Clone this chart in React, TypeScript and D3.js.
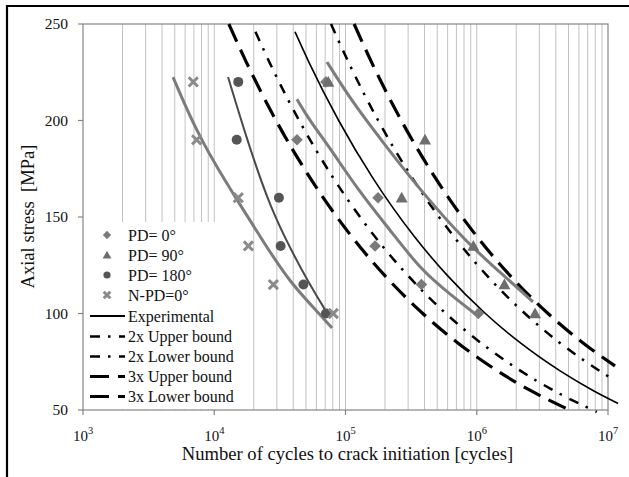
import React from "react";
import * as d3 from "d3";

// ---- measured data: fatigue life [cycles] vs. axial stress [MPa] ----
const stressLevels = [220, 190, 160, 135, 115, 100];

const pd0Cycles = [70900, 42700, 177000, 168000, 379000, 1028000];
const pd90Cycles = [74000, 403500, 268000, 942000, 1625000, 2780000];
const pd180Cycles = [15240, 14830, 31100, 32050, 47800, 70960];
const npdCycles = [6920, 7345, 15240, 18200, 28200, 80700];

// ---- trend lines of each data group ----
const fitNpdCycles = [4850, 7780, 15170, 23500, 37760, 63970, 78900];
const fitNpdStress = [222.5, 190, 158, 137.5, 116, 99.5, 92.5];
const fitPd180Cycles = [12740, 17770, 26610, 39810, 50930, 72280];
const fitPd180Stress = [222.5, 190, 155, 131, 117.5, 100.3];
const fitPd0Cycles = [42700, 53600, 76200, 124500, 218300, 375800, 636300, 1022000];
const fitPd0Stress = [211, 199.7, 185.8, 164, 143.3, 122.5, 109.6, 98.7];
const fitPd90Cycles = [72300, 114000, 189700, 369500, 842700, 1503000, 2683000];
const fitPd90Stress = [230.3, 209.1, 189.4, 164, 136.5, 121.5, 106];

// ---- experimental curve and scatter bands ----
const expCycles = [41200, 52800, 88700, 162200, 333400, 591600, 1164000, 2128000, 4375000, 7745000, 11940000];
const expStress = [246, 230, 200, 170, 140, 120, 100, 85, 70, 60, 53.4];
const up2Cycles = [77540, 105700, 177400, 324300, 666800, 1183000, 2328000, 4256000, 8750000, 10670000];
const up2Stress = [250, 230, 200, 170, 140, 120, 100, 85, 70, 66.3];
const lo2Cycles = [20600, 26420, 44360, 81100, 166700, 295800, 582100, 1064000, 2188000, 3873000, 8217000];
const lo2Stress = [246, 230, 200, 170, 140, 120, 100, 85, 70, 60, 49];
const up3Cycles = [116300, 158500, 266100, 486500, 1000000, 1775000, 3492000, 6385000, 11300000];
const up3Stress = [250, 230, 200, 170, 140, 120, 100, 85, 72.8];
const lo3Cycles = [12920, 17620, 29570, 54060, 111100, 197200, 388000, 709500, 1458000, 2582000, 5477000];
const lo3Stress = [250, 230, 200, 170, 140, 120, 100, 85, 70, 60, 49];

// ---- axes ----
const xDecades = [3, 4, 5, 6, 7];
const yTicks = [50, 100, 150, 200, 250];

const legendLabels = [
  "PD= 0°",
  "PD= 90°",
  "PD= 180°",
  "N-PD=0°",
  "Experimental",
  "2x Upper bound",
  "2x Lower bound",
  "3x Upper bound",
  "3x Lower bound",
];

const W = 629;
const H = 477;
const L = 83;
const R = 608;
const T = 24;
const B = 410;
const FONT = "'Liberation Serif', 'Times New Roman', serif";

const x = d3.scaleLog().domain([1e3, 1e7]).range([L, R]);
const y = d3.scaleLinear().domain([50, 250]).range([B, T]);

const zip = (n: number[], s: number[]) => n.map((v, i) => [v, s[i]] as [number, number]);

const smooth = d3
  .line<[number, number]>()
  .x((d) => x(d[0]))
  .y((d) => y(d[1]))
  .curve(d3.curveBasis);
const mono = d3
  .line<[number, number]>()
  .x((d) => x(d[0]))
  .y((d) => y(d[1]))
  .curve(d3.curveMonotoneX);

const DASH2 = "10,8,2.5,8.5";
const DASH3 = "19,9";

const C_DIAMOND = "#7a7a7a";
const C_TRI = "#6e6e6e";
const C_CIRCLE = "#555555";
const C_CROSS = "#8a8a8a";

function Marker({ kind, cx, cy, s = 1 }: { kind: string; cx: number; cy: number; s?: number }) {
  if (kind === "diamond") {
    const r = 5.8 * s;
    return <path d={`M${cx},${cy - r}L${cx + r},${cy}L${cx},${cy + r}L${cx - r},${cy}Z`} fill={C_DIAMOND} />;
  }
  if (kind === "tri") {
    const r = 6 * s;
    return (
      <path
        d={`M${cx},${cy - r}L${cx + r},${cy + r * 0.8}L${cx - r},${cy + r * 0.8}Z`}
        fill={C_TRI}
      />
    );
  }
  if (kind === "circle") {
    return <circle cx={cx} cy={cy} r={5 * s} fill={C_CIRCLE} />;
  }
  const r = 4.6 * s;
  return (
    <path
      d={`M${cx - r},${cy - r}L${cx + r},${cy + r}M${cx - r},${cy + r}L${cx + r},${cy - r}`}
      stroke={C_CROSS}
      strokeWidth={3}
      fill="none"
    />
  );
}

export default function App() {
  const grid: number[] = [];
  for (let k = 3; k <= 6; k++) {
    for (let m = 1; m <= 9; m++) {
      const v = m * Math.pow(10, k);
      if (v > 1e3) grid.push(v);
    }
  }

  const groups = [
    { kind: "diamond", cycles: pd0Cycles },
    { kind: "tri", cycles: pd90Cycles },
    { kind: "circle", cycles: pd180Cycles },
    { kind: "cross", cycles: npdCycles },
  ];

  const legendRowY = [235, 255, 275, 295, 316, 336.5, 356.5, 376.5, 396.5];
  const legendMarkers = ["diamond", "tri", "circle", "cross"];

  return (
    <svg
      width={W}
      height={H}
      style={{ position: "fixed", left: 0, top: 0, background: "#fff" }}
      fontFamily={FONT}
    >
      <rect x={0} y={0} width={W} height={H} fill="#fff" />
      {/* outer frame */}
      <line x1={6} y1={6} x2={W} y2={6} stroke="#000" strokeWidth={2.2} />
      <line x1={7} y1={5} x2={7} y2={H} stroke="#000" strokeWidth={2.2} />

      {/* vertical grid */}
      {grid.map((v) => (
        <line key={v} x1={x(v)} x2={x(v)} y1={T} y2={B} stroke="#c2c2c2" strokeWidth={1} />
      ))}

      {/* plot frame */}
      <rect x={L} y={T} width={R - L} height={B - T} fill="none" stroke="#858585" strokeWidth={1.2} />

      {/* axis ticks */}
      {yTicks.map((t) => (
        <g key={t}>
          <line x1={L - 5} x2={L} y1={y(t)} y2={y(t)} stroke="#858585" strokeWidth={1.2} />
          <text x={68} y={y(t) + 5} textAnchor="end" fontSize={15.5} fill="#111">
            {t}
          </text>
        </g>
      ))}
      {xDecades.map((k) => (
        <g key={k}>
          <line x1={x(Math.pow(10, k))} x2={x(Math.pow(10, k))} y1={B} y2={B + 5} stroke="#858585" strokeWidth={1.2} />
          <text x={x(Math.pow(10, k))} y={441} textAnchor="middle" fontSize={15} fill="#111">
            10
            <tspan dy={-7} fontSize={10.5}>
              {k}
            </tspan>
          </text>
        </g>
      ))}

      {/* axis titles */}
      <text x={347.5} y={459.5} textAnchor="middle" fontSize={18.6} fill="#111">
        Number of cycles to crack initiation [cycles]
      </text>
      <text
        transform="translate(34,216.5) rotate(-90)"
        textAnchor="middle"
        fontSize={18.6}
        fill="#111"
        style={{ whiteSpace: "pre" }}
      >
        {"Axial stress  [MPa]"}
      </text>

      {/* scatter bands */}
      <path d={mono(zip(lo3Cycles, lo3Stress)) || ""} fill="none" stroke="#000" strokeWidth={3.2} strokeDasharray={DASH3} />
      <path d={mono(zip(up3Cycles, up3Stress)) || ""} fill="none" stroke="#000" strokeWidth={3.2} strokeDasharray={DASH3} />
      <path d={mono(zip(lo2Cycles, lo2Stress)) || ""} fill="none" stroke="#000" strokeWidth={2.5} strokeDasharray={DASH2} />
      <path d={mono(zip(up2Cycles, up2Stress)) || ""} fill="none" stroke="#000" strokeWidth={2.5} strokeDasharray={DASH2} />

      {/* group trend lines */}
      <path d={smooth(zip(fitNpdCycles, fitNpdStress)) || ""} fill="none" stroke="#7c7c7c" strokeWidth={3} />
      <path d={smooth(zip(fitPd180Cycles, fitPd180Stress)) || ""} fill="none" stroke="#4a4a4a" strokeWidth={2} />
      <path d={smooth(zip(fitPd0Cycles, fitPd0Stress)) || ""} fill="none" stroke="#7c7c7c" strokeWidth={3} />
      <path d={smooth(zip(fitPd90Cycles, fitPd90Stress)) || ""} fill="none" stroke="#7c7c7c" strokeWidth={3} />

      {/* experimental curve */}
      <path d={mono(zip(expCycles, expStress)) || ""} fill="none" stroke="#000" strokeWidth={1.6} />

      {/* data points */}
      {groups.map((g) =>
        g.cycles.map((n, i) => (
          <Marker key={g.kind + i} kind={g.kind} cx={x(n)} cy={y(stressLevels[i])} />
        ))
      )}

      {/* legend */}
      <rect x={L + 1} y={222} width={158} height={B - 222 - 1} fill="#fff" />
      {legendLabels.map((lab, i) => {
        const ry = legendRowY[i];
        let sample: React.ReactNode = null;
        if (i < 4) {
          sample = <Marker kind={legendMarkers[i]} cx={107} cy={ry} s={0.72} />;
        } else if (i === 4) {
          sample = <line x1={90} x2={125} y1={ry} y2={ry} stroke="#000" strokeWidth={2.2} />;
        } else if (i < 7) {
          sample = (
            <line x1={90} x2={125} y1={ry} y2={ry} stroke="#000" strokeWidth={2.6} strokeDasharray={DASH2} />
          );
        } else {
          sample = (
            <line x1={90} x2={125} y1={ry} y2={ry} stroke="#000" strokeWidth={3.2} strokeDasharray={DASH3} />
          );
        }
        return (
          <g key={lab}>
            {sample}
            <text x={128} y={ry + 5.5} fontSize={16} fill="#111">
              {lab}
            </text>
          </g>
        );
      })}
    </svg>
  );
}
